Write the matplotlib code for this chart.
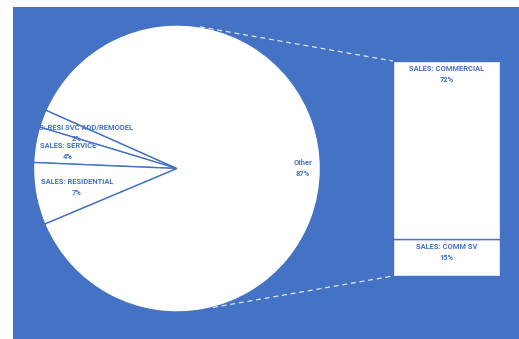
import numpy as np
import matplotlib
matplotlib.use('Agg')
import matplotlib.pyplot as plt
from matplotlib.patches import Rectangle

# pie (main) slices, drawn counterclockwise from the start angle
pie_labels = ['SALES: RESI SVC ADD/REMODEL', 'SALES: SERVICE', 'SALES: RESIDENTIAL', 'Other']
pie_values = [2, 4, 7, 87]

# secondary bar: breakdown of "Other"
bar_labels = ['SALES: COMM SV', 'SALES: COMMERCIAL']
bar_values = [15, 72]

BLUE = '#4472C4'
W, H = 519, 339

plt.rcParams['font.family'] = ['Roboto', 'DejaVu Sans']

fig = plt.figure(figsize=(W / 100, H / 100), dpi=100, facecolor='white')
ax = fig.add_axes([0, 0, 1, 1])
ax.axis('off')

# blue chart area
ax.add_patch(Rectangle((13, 0), W - 13, H - 7, facecolor=BLUE, edgecolor='none', zorder=0))

# main pie
cx, cy, r = 177, H - 168.5, 143.5
wedges, _ = ax.pie(pie_values, startangle=156, counterclock=True, center=(cx, cy), radius=r,
                   colors=['white'] * 4,
                   wedgeprops=dict(edgecolor=BLUE, linewidth=1.0))
for w in wedges:
    w.set_zorder(2)

txt = dict(color=BLUE, fontsize=5.4, fontweight='bold', ha='center', va='center',
           linespacing=1.55, zorder=5)
label_pos = [(77, 133), (68, 151.5), (77, 187.5), (303, 168.5)]
for lab, val, (x, y) in zip(pie_labels, pie_values, label_pos):
    ax.text(x, H - y, f'{lab}\n{val}%', **txt)

# secondary stacked bar
bx0, bx1 = 393, 500
by_top, by_bot = 61, 276
tot = sum(bar_values)
scale = (by_bot - by_top) / tot
bottom = H - by_bot
for lab, val in zip(bar_labels, bar_values):
    h = val * scale
    ax.bar((bx0 + bx1) / 2, h, width=bx1 - bx0, bottom=bottom, color='white',
           edgecolor=BLUE, linewidth=1.0, zorder=2)
    ax.text((bx0 + bx1) / 2, bottom + h - 13.5, f'{lab}\n{val}%', **txt)
    bottom += h

# dashed connector lines
a_top, a_bot = np.deg2rad(80.8), np.deg2rad(-75.5)
ax.plot([cx + r * np.cos(a_top), bx0], [cy + r * np.sin(a_top), H - by_top],
        color='#dce4f4', lw=0.9, dashes=(4, 3), zorder=3)
ax.plot([cx + r * np.cos(a_bot), bx0], [cy + r * np.sin(a_bot), H - by_bot],
        color='#dce4f4', lw=0.9, dashes=(4, 3), zorder=3)

ax.set_xlim(0, W)
ax.set_ylim(0, H)
ax.set_aspect('equal')
ax.set_position([0, 0, 1, 1])

fig.savefig('out.png', dpi=100, facecolor='white')
